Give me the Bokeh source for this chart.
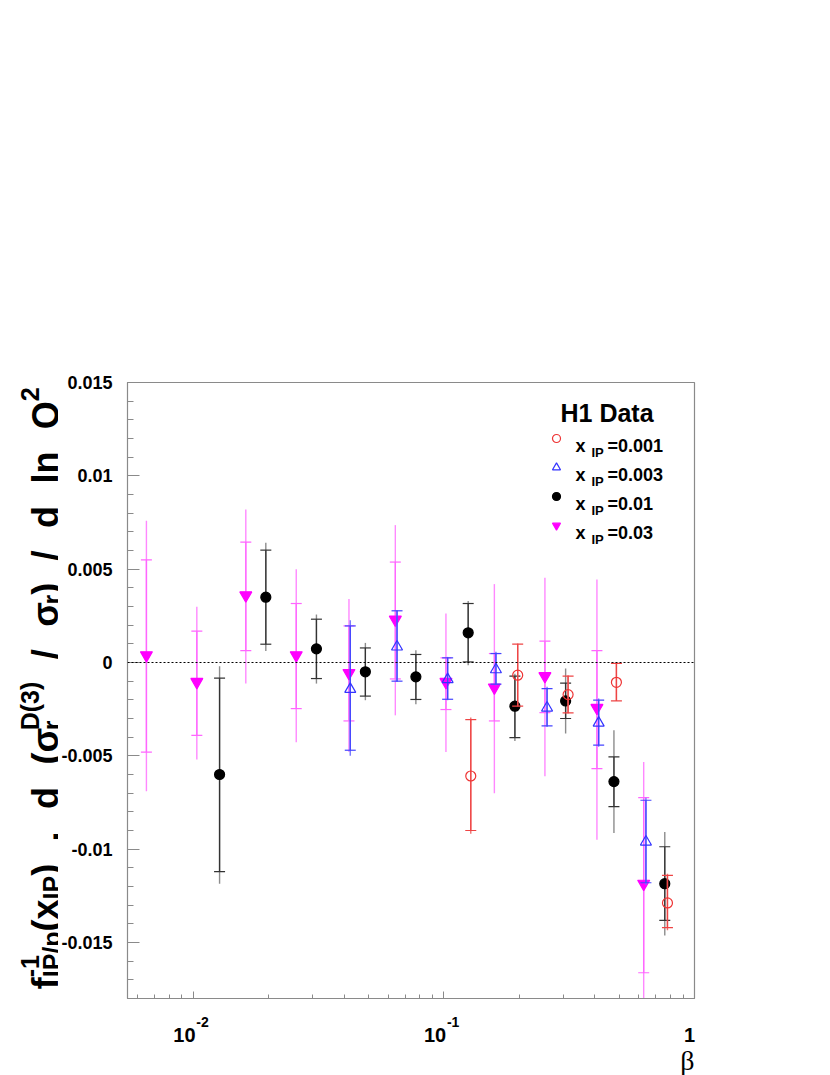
import math
from bokeh.plotting import figure
from bokeh.layouts import row, column
from bokeh.models import (FixedTicker, CustomJSTickFormatter, Span, Label, Legend,
                          LegendItem, ColumnDataSource, Range1d)
from bokeh.embed import file_html
from bokeh.resources import INLINE

# ---------------- data ----------------
xip_names = ["0.001", "0.003", "0.01", "0.03"]

# x_IP = 0.001 (open red circles)
beta_001 = [0.128, 0.197, 0.313, 0.488, 0.78]
val_001 = [-0.00608, -0.00068, -0.00172, -0.00106, -0.01288]
stat_lo_001 = [-0.0090, -0.00234, -0.0027, -0.00206, -0.0142]
stat_hi_001 = [-0.00306, 0.00098, -0.00073, -0.00005, -0.0114]
tot_lo_001 = [-0.00917, -0.00234, -0.00273, -0.00206, -0.01435]
tot_hi_001 = [-0.00295, 0.00102, -0.00068, -0.00005, -0.01132]

# x_IP = 0.003 (open blue triangles)
beta_003 = [0.0423, 0.065, 0.1035, 0.1613, 0.258, 0.4146, 0.64]
val_003 = [-0.00143, 0.00084, -0.00091, -0.00038, -0.00243, -0.00324, -0.00961]
stat_lo_003 = [-0.0047, -0.0010, -0.00197, -0.00116, -0.0034, -0.00443, -0.0118]
stat_hi_003 = [0.00196, 0.00277, 0.00025, 0.00048, -0.0014, -0.00202, -0.00738]
tot_lo_003 = [-0.0050, -0.00104, -0.00202, -0.00122, -0.00345, -0.00452, -0.0119]
tot_hi_003 = [0.00227, 0.0028, 0.0003, 0.00057, -0.0013, -0.00193, -0.00724]

# x_IP = 0.01 (full black circles)
beta_01 = [0.01273, 0.01947, 0.031, 0.0486, 0.0773, 0.125, 0.192, 0.306, 0.477, 0.761]
val_01 = [-0.0060, 0.0035, 0.00073, -0.0005, -0.00077, 0.00159, -0.00234, -0.00206, -0.00638, -0.01185]
stat_lo_01 = [-0.0112, 0.00098, -0.00086, -0.0018, -0.00198, 0.00003, -0.00402, -0.0030, -0.00772, -0.01382]
stat_hi_01 = [-0.00084, 0.00602, 0.00232, 0.00078, 0.00043, 0.00316, -0.00073, -0.0011, -0.00506, -0.00987]
tot_lo_01 = [-0.01185, 0.00062, -0.00113, -0.00202, -0.00224, -0.00015, -0.0042, -0.0038, -0.00914, -0.01463]
tot_hi_01 = [-0.0002, 0.00641, 0.00257, 0.00105, 0.00066, 0.0033, -0.0006, -0.00032, -0.00363, -0.00908]

# x_IP = 0.03 (full magenta down triangles)
beta_03 = [0.0065, 0.01033, 0.0162, 0.02575, 0.0418, 0.064, 0.1019, 0.159, 0.253, 0.408, 0.627]
val_03 = [0.00039, -0.00104, 0.0036, 0.00039, -0.00056, 0.0023, -0.00104, -0.00134, -0.00073, -0.00243, -0.01185]
stat_lo_03 = [-0.0048, -0.0039, 0.00064, -0.00247, -0.00313, -0.00088, -0.00252, -0.00313, -0.00268, -0.00568, -0.01662]
stat_hi_03 = [0.0055, 0.00168, 0.00645, 0.00316, 0.00196, 0.00538, 0.00025, 0.00048, 0.00114, 0.00064, -0.00724]
tot_lo_03 = [-0.0069, -0.0052, -0.00113, -0.00427, -0.0048, -0.00283, -0.0048, -0.0070, -0.0061, -0.0095, -0.0180]
tot_hi_03 = [0.0076, 0.00298, 0.0082, 0.005, 0.0034, 0.00736, 0.00263, 0.0042, 0.00454, 0.00445, -0.00533]

y_ticks = [-0.015, -0.01, -0.005, 0.0, 0.005, 0.01, 0.015]
x_ticks = [0.01, 0.1, 1.0]
x_tick_base = ["10", "10", "1"]
x_tick_exp = ["-2", "-1", ""]

# ---------------- geometry (page pixels) ----------------
FL, FT, FW, FH = 125, 382, 567, 616
WL = 58                      # width of the y-title strip
BOT = 4                      # border under the frame
XMIN, XMAX = 0.005463, 1.0
YMIN, YMAX = -0.018, 0.015
FONT = "Liberation Sans"


def strip(w, h):
    f = figure(width=w, height=h, x_range=Range1d(0, w), y_range=Range1d(0, h),
               min_border=0, x_axis_location=None, y_axis_location=None,
               output_backend="svg", toolbar_location=None, title=None,
               background_fill_color="white", border_fill_color="white")
    f.outline_line_color = None
    f.xgrid.visible = False
    f.ygrid.visible = False
    return f


# ---------------- main panel ----------------
p = figure(x_axis_type="log", x_range=(XMIN, XMAX), y_range=(YMIN, YMAX),
           frame_width=FW, frame_height=FH,
           min_border_left=FL - WL, min_border_top=FT,
           min_border_right=830 - (FL + FW) - 8, min_border_bottom=BOT,
           output_backend="svg", toolbar_location=None, title=None,
           background_fill_color="white", border_fill_color="white")
p.outline_line_color = "#8a8a8a"
p.outline_line_width = 1.2
p.xgrid.visible = False
p.ygrid.visible = False

yminor = [round(-0.018 + 0.001 * i, 3) for i in range(34)]
p.yaxis.ticker = FixedTicker(ticks=y_ticks, minor_ticks=yminor)
p.yaxis.formatter = CustomJSTickFormatter(code="return String(Math.round(tick*10000)/10000);")
p.yaxis.major_label_text_font = FONT
p.yaxis.major_label_text_font_style = "bold"
p.yaxis.major_label_text_font_size = "18px"
p.yaxis.major_label_text_color = "black"
p.yaxis.major_label_standoff = 15
p.yaxis.major_tick_in = 12
p.yaxis.major_tick_out = 0
p.yaxis.minor_tick_in = 6
p.yaxis.minor_tick_out = 0
for ax in (p.xaxis, p.yaxis):
    ax.axis_line_color = "#8a8a8a"
    ax.major_tick_line_color = "#8a8a8a"
    ax.minor_tick_line_color = "#8a8a8a"

xminor = []
for dec in (0.001, 0.01, 0.1):
    for m in range(2, 10):
        xminor.append(round(m * dec, 4))
p.xaxis.ticker = FixedTicker(ticks=x_ticks, minor_ticks=xminor)
p.xaxis.formatter = CustomJSTickFormatter(code="return '';")
p.xaxis.major_label_text_font_size = "0px"
p.xaxis.major_label_standoff = 0
p.xaxis.major_tick_in = 7
p.xaxis.major_tick_out = 0
p.xaxis.minor_tick_in = 4
p.xaxis.minor_tick_out = 0

p.add_layout(Span(location=0, dimension="width", line_color="black",
                  line_dash="2 2", line_width=1))


def draw(beta, val, slo, shi, tlo, thi, err_col, err_col_outer, marker, mcol, fill, size):
    src = ColumnDataSource(dict(x=beta, y=val, slo=slo, shi=shi, tlo=tlo, thi=thi))
    p.segment(x0="x", y0="tlo", x1="x", y1="thi", source=src,
              line_color=err_col_outer, line_width=1.4)
    p.segment(x0="x", y0="slo", x1="x", y1="shi", source=src,
              line_color=err_col, line_width=1.3)
    p.scatter(x="x", y="slo", marker="dash", size=11, line_color=err_col, line_width=1.2, source=src)
    p.scatter(x="x", y="shi", marker="dash", size=11, line_color=err_col, line_width=1.2, source=src)
    return p.scatter(x="x", y="y", marker=marker, size=size, line_color=mcol,
                     fill_color=fill, line_width=1.2, source=src)


r03 = draw(beta_03, val_03, stat_lo_03, stat_hi_03, tot_lo_03, tot_hi_03,
           "#ff66ff", "#ff88ff", "inverted_triangle", "#ff00ff", "#ff00ff", 12)
r003 = draw(beta_003, val_003, stat_lo_003, stat_hi_003, tot_lo_003, tot_hi_003,
            "#4444ff", "#7777ff", "triangle", "#3333ff", None, 11)
r01 = draw(beta_01, val_01, stat_lo_01, stat_hi_01, tot_lo_01, tot_hi_01,
           "#333333", "#8c8c8c", "circle", "black", "black", 10)
r001 = draw(beta_001, val_001, stat_lo_001, stat_hi_001, tot_lo_001, tot_hi_001,
            "#ee4444", "#f07070", "circle", "#ee3333", None, 10)

legend = Legend(items=[LegendItem(label=" ", renderers=[r]) for r in (r001, r003, r01, r03)],
                location=(544 - FL, (FT + FH) - 535), padding=0, margin=0, spacing=9,
                glyph_height=20, glyph_width=20, label_height=20, label_width=5,
                border_line_alpha=0, background_fill_alpha=0)
p.add_layout(legend)


def px2x(px):
    lo, hi = math.log10(XMIN), math.log10(XMAX)
    return 10 ** (lo + (px - FL) / FW * (hi - lo))


def py2y(py):
    return YMAX - (py - FT) / FH * (YMAX - YMIN)


def lab(fig, txt, x, y, size, align="left", bold=True, angle=0.0, font=FONT,
        xo=0.0, yo=0.0):
    fig.add_layout(Label(x=x, y=y, x_offset=xo, y_offset=yo, text=txt, text_font=font,
                         text_font_size=f"{size}px",
                         text_font_style="bold" if bold else "normal",
                         text_align=align, text_baseline="alphabetic",
                         angle=angle, text_color="black"))


# legend texts (inside the frame)
lab(p, "H1 Data", px2x(558), py2y(412), 25)
row_c = [438, 467, 496, 525]
for c, name in zip(row_c, xip_names):
    lab(p, "x", px2x(573), py2y(c + 7.5), 18)
    lab(p, "IP", px2x(589), py2y(c + 13.5), 13)
    lab(p, "=" + name, px2x(605), py2y(c + 7.5), 18)

# ---------------- bottom strip: x tick labels and title ----------------
Y0 = FT + FH + BOT
HB = 1075 - Y0
bot = strip(830 - 8, HB)
tick_px = [FL + (math.log10(t) - math.log10(XMIN)) / (math.log10(XMAX) - math.log10(XMIN)) * FW
           for t in x_ticks]
for tx, base, ex in zip(tick_px, x_tick_base, x_tick_exp):
    if ex:
        lab(bot, base, tx - 18, HB - (1034 - Y0), 20)
        lab(bot, ex, tx + 5, HB - (1021 - Y0), 14)
    else:
        lab(bot, base, tx - 3, HB - (1034 - Y0), 20, align="center")
lab(bot, "\u03b2", 694, HB - (1060 - Y0), 28, align="right", bold=False, font="Liberation Serif")

# ---------------- left strip: rotated y title ----------------
HL = FT + FH + BOT
left = strip(WL, HL)
W = {' ': 278, '(': 333, ')': 333, '.': 278, '/': 278, '-': 333, '1': 556, '2': 556,
     '3': 556, 'D': 722, 'I': 278, 'P': 667, 'Q': 778, 'd': 611, 'f': 333, 'l': 278,
     'n': 611, 'p': 611, 'r': 389, 'x': 556, '\u03c3': 620}


def tw(s, size):
    return sum(W.get(ch, 556) for ch in s) * size / 1000.0


S_MAIN, S_SMALL = 36, 25
BASE_X = 45
Y_START, Y_END = 987, 385
SG = "\u03c3"
# (text, kind, second text); kind: m main, s sub, p sup, ss sub+sup, sp = space gap
tokens = [("f", "m", None), ("IP/p", "ss", "-1"), ("(x", "m", None), ("IP", "s", None),
          (")", "m", None), ("", "sp", None), (".", "m", None), ("", "sp", None),
          ("d", "m", None), ("", "sp", None), ("(" + SG, "m", None), ("r", "ss", "D(3)"),
          ("", "sp", None), ("/", "m", None), ("", "sp", None), (SG, "m", None),
          ("r", "s", None), (")", "m", None), ("", "sp", None), ("/", "m", None),
          ("", "sp", None), ("d", "m", None), ("", "sp", None), ("ln", "m", None),
          ("", "sp", None), ("Q", "m", None), ("2", "p", None)]


def adv_of(t, kind, t2):
    if kind == "m":
        return tw(t, S_MAIN)
    if kind == "ss":
        return max(tw(t, S_SMALL), tw(t2, S_SMALL))
    if kind in ("s", "p"):
        return tw(t, S_SMALL)
    return 0.0


natural = sum(adv_of(*tk) for tk in tokens)
n_sp = sum(1 for tk in tokens if tk[1] == "sp")
gap = (Y_START - Y_END - natural) / n_sp
ang = math.pi / 2
AX, AY = BASE_X, HL - Y_START
up = 0.0
for t, kind, t2 in tokens:
    if kind == "sp":
        up += gap
        continue
    if kind == "m":
        lab(left, t, AX, AY, S_MAIN, angle=ang, yo=up)
    elif kind == "ss":
        lab(left, t, AX, AY, S_SMALL, angle=ang, yo=up, xo=6)
        lab(left, t2, AX, AY, S_SMALL, angle=ang, yo=up, xo=-16)
    elif kind == "s":
        lab(left, t, AX, AY, S_SMALL, angle=ang, yo=up, xo=6)
    else:
        lab(left, t, AX, AY, S_SMALL, angle=ang, yo=up, xo=-16)
    up += adv_of(t, kind, t2)

layout = column(row(left, p), bot)
open("out.html", "w").write(file_html(layout, INLINE))
